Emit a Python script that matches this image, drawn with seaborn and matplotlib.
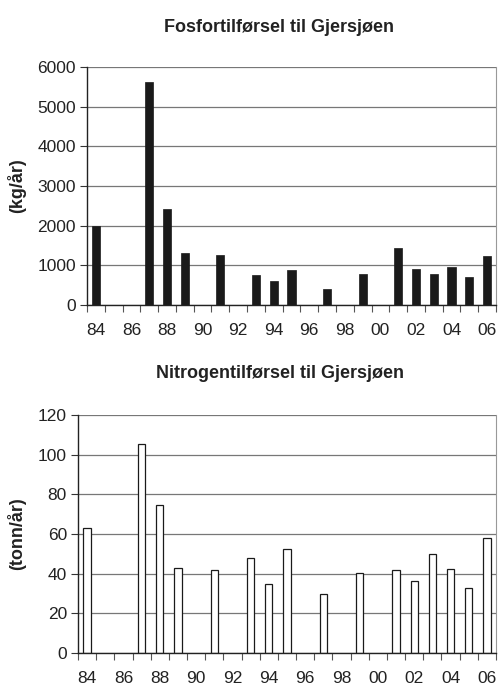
import numpy as np
import pandas as pd
import matplotlib
matplotlib.use("Agg")
import matplotlib.pyplot as plt
import seaborn as sns

# Data
years = list(range(1984, 2007))
year_labels = [f"{y % 100:02d}" for y in years]
fosfor = [2000, 0, 0, 5620, 2420, 1300, 0, 1260, 0, 750, 600, 870, 0, 400,
          0, 770, 0, 1440, 910, 790, 960, 700, 1230]
nitrogen = [63, 0, 0, 105.5, 74.5, 43, 0, 42, 0, 48, 35, 52.5, 0, 30,
            0, 40.5, 0, 42, 36.5, 50, 42.5, 33, 58]

sns.set_theme(style="white")
plt.rcParams["font.family"] = ["Liberation Sans", "DejaVu Sans"]

df = pd.DataFrame({"year": year_labels, "fosfor": fosfor, "nitrogen": nitrogen})

fig = plt.figure(figsize=(4.98, 6.85), dpi=100)
ax1 = fig.add_axes([87 / 498, 1 - 305 / 685, 409 / 498, 238 / 685])
ax2 = fig.add_axes([78 / 498, 1 - 653 / 685, 418 / 498, 238 / 685])


def style_axis(ax, ymax, step, ylabel):
    ax.set_ylim(0, ymax)
    ax.set_xlim(-0.5, len(years) - 0.5)
    ax.set_yticks(np.arange(0, ymax + 1, step))
    ax.yaxis.grid(True, color="#777777", linewidth=0.9)
    ax.set_axisbelow(True)
    ax.set_xticks(range(0, len(years), 2))
    ax.set_xticklabels(year_labels[::2])
    ax.set_xticks(np.arange(-0.5, len(years), 1), minor=True)
    ax.tick_params(axis="x", which="major", length=0, pad=13, labelsize=12.5,
                   colors="#222222")
    ax.tick_params(axis="x", which="minor", length=5, width=0.8,
                   color="#555555", direction="out", bottom=True)
    ax.tick_params(axis="y", length=5, width=0.8, direction="out", left=True,
                   labelsize=12.5, colors="#222222", color="#333333", pad=3)
    for side in ["left", "bottom"]:
        ax.spines[side].set_color("#222222")
        ax.spines[side].set_linewidth(1.0)
    ax.spines["right"].set_color("#999999")
    ax.spines["right"].set_linewidth(0.8)
    ax.spines["top"].set_visible(False)
    ax.set_xlabel("")
    ax.set_ylabel(ylabel, fontsize=13, fontweight="bold", color="#222222")
    # hide empty years
    for p in ax.patches:
        if p.get_height() == 0:
            p.set_visible(False)


sns.barplot(data=df, x="year", y="fosfor", ax=ax1, color="#1a1a1a",
            width=0.46, edgecolor="#1a1a1a", linewidth=0.5, saturation=1)
style_axis(ax1, 6000, 1000, "(kg/år)")
ax1.yaxis.set_label_coords((26 - 87) / 409, 0.5)

sns.barplot(data=df, x="year", y="nitrogen", ax=ax2, color="white",
            width=0.4, edgecolor="#1a1a1a", linewidth=0.9, saturation=1)
style_axis(ax2, 120, 20, "(tonn/år)")
ax2.yaxis.set_label_coords((26 - 78) / 418, 0.5)

fig.text(279 / 498, 1 - 27 / 685, "Fosfortilførsel til Gjersjøen",
         ha="center", va="center", fontsize=13, fontweight="bold",
         color="#222222")
fig.text(280 / 498, 1 - 374 / 685, "Nitrogentilførsel til Gjersjøen",
         ha="center", va="center", fontsize=13, fontweight="bold",
         color="#222222")

fig.savefig("out.png", dpi=100)
